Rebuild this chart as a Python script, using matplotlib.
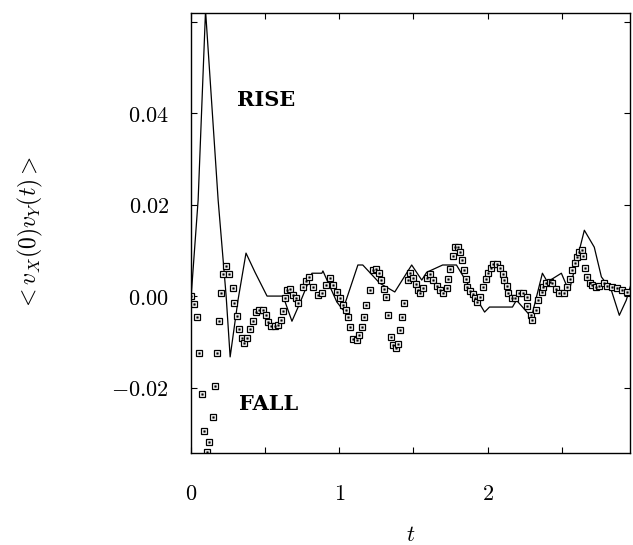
import matplotlib
matplotlib.use("Agg")
import matplotlib.pyplot as plt

plt.rcParams['mathtext.fontset'] = 'cm'
plt.rcParams['font.family'] = ['DejaVu Serif']

# solid curve (t, value)
line_t = [0.0, 0.047, 0.097, 0.182, 0.236, 0.263, 0.316, 0.37, 0.431, 0.512,
          0.62, 0.68, 0.734, 0.815, 0.882, 0.889, 0.983, 1.024, 1.125, 1.158,
          1.273, 1.374, 1.488, 1.556, 1.589, 1.697, 1.79, 1.98, 2.013, 2.168,
          2.195, 2.296, 2.37, 2.404, 2.498, 2.532, 2.552, 2.653, 2.72, 2.768,
          2.835, 2.889, 2.936, 2.97]
line_v = [0.0, 0.021, 0.0625, 0.021, 0.0, -0.0133, -0.0009, 0.0094, 0.0052, 0.0,
          0.0, -0.0055, -0.0015, 0.005, 0.005, 0.0055, -0.0013, -0.003, 0.0068, 0.0068,
          0.0028, 0.0009, 0.0068, 0.0035, 0.0052, 0.0068, 0.0068, -0.0035, -0.0024, -0.0024,
          -0.0009, -0.0046, 0.005, 0.0031, 0.005, 0.0024, 0.0013, 0.0144, 0.0107, 0.0042,
          0.0013, -0.0042, -0.0009, 0.0028]

# square markers (t, value)
sq_t = [0.0, 0.02, 0.04, 0.054, 0.074, 0.088, 0.108, 0.12, 0.148, 0.16,
        0.175, 0.19, 0.2, 0.215, 0.236, 0.256, 0.28, 0.29, 0.31, 0.323,
        0.343, 0.357, 0.38, 0.4, 0.418, 0.437, 0.458, 0.485, 0.505, 0.52,
        0.54, 0.565, 0.586, 0.606, 0.62, 0.63, 0.646, 0.667, 0.687, 0.71,
        0.723, 0.754, 0.774, 0.795, 0.824, 0.857, 0.88, 0.91, 0.936, 0.96,
        0.981, 1.005, 1.026, 1.045, 1.06, 1.075, 1.093, 1.116, 1.135, 1.15,
        1.165, 1.183, 1.205, 1.228, 1.25, 1.268, 1.284, 1.3, 1.313, 1.329,
        1.35, 1.365, 1.38, 1.395, 1.407, 1.42, 1.434, 1.461, 1.475, 1.495,
        1.515, 1.529, 1.543, 1.562, 1.589, 1.609, 1.63, 1.657, 1.677, 1.697,
        1.724, 1.731, 1.744, 1.764, 1.778, 1.798, 1.811, 1.825, 1.838, 1.852,
        1.859, 1.879, 1.899, 1.912, 1.926, 1.946, 1.966, 1.987, 2.0, 2.02,
        2.034, 2.061, 2.081, 2.101, 2.114, 2.128, 2.141, 2.162, 2.182, 2.209,
        2.236, 2.263, 2.269, 2.296, 2.303, 2.33, 2.343, 2.364, 2.377, 2.397,
        2.418, 2.438, 2.465, 2.485, 2.519, 2.539, 2.559, 2.572, 2.593, 2.606,
        2.62, 2.64, 2.646, 2.66, 2.673, 2.694, 2.707, 2.734, 2.754, 2.788,
        2.808, 2.842, 2.875, 2.909, 2.943]
sq_v = [0.0, -0.0018, -0.0046, -0.0125, -0.0214, -0.0295, -0.034, -0.032, -0.0265, -0.0197,
        -0.0125, -0.0055, 0.0006, 0.0048, 0.0066, 0.0048, 0.0017, -0.0015, -0.0044, -0.0072,
        -0.0092, -0.0103, -0.0092, -0.0072, -0.0055, -0.0035, -0.003, -0.003, -0.0042, -0.0057,
        -0.0066, -0.0066, -0.0063, -0.0052, -0.0033, -0.0004, 0.0013, 0.0015, 0.0002, -0.0004,
        -0.0016, 0.002, 0.0033, 0.0041, 0.002, 0.0002, 0.0006, 0.0025, 0.004, 0.0025,
        0.0009, -0.0005, -0.002, -0.003, -0.0045, -0.0068, -0.0093, -0.0095, -0.0085, -0.0067,
        -0.0045, -0.002, 0.0013, 0.0057, 0.0059, 0.005, 0.0035, 0.0015, -0.0001, -0.0042,
        -0.0089, -0.0108, -0.0114, -0.0105, -0.0074, -0.0045, -0.0016, 0.0035, 0.005, 0.0039,
        0.0026, 0.0013, 0.0007, 0.0017, 0.0039, 0.0048, 0.0035, 0.0022, 0.0013, 0.0007,
        0.0017, 0.0037, 0.0059, 0.0087, 0.0107, 0.0107, 0.0096, 0.0079, 0.0057, 0.0037,
        0.002, 0.0011, 0.0004, -0.0004, -0.0013, -0.0002, 0.002, 0.0037, 0.005, 0.0061,
        0.007, 0.007, 0.0061, 0.0048, 0.0035, 0.0022, 0.0007, -0.0004, -0.0004, 0.0007,
        0.0007, -0.0002, -0.0022, -0.0042, -0.0052, -0.0031, -0.0009, 0.0009, 0.002, 0.0028,
        0.0031, 0.0028, 0.0015, 0.0007, 0.0007, 0.002, 0.0037, 0.0057, 0.0072, 0.0085,
        0.0096, 0.01, 0.0087, 0.0061, 0.0042, 0.0028, 0.0024, 0.002, 0.0022, 0.0028,
        0.0022, 0.002, 0.0017, 0.0013, 0.0009]

xticks = [0, 0.5, 1, 1.5, 2, 2.5]
xlabels = ['$0$', '', '$1$', '', '$2$', '']
yticks = [-0.02, 0.0, 0.02, 0.04, 0.06]
ylabels = ['$-0.02$', '$0.00$', '$0.02$', '$0.04$', '']

fig = plt.figure(figsize=(6.33, 5.45), dpi=100)
ax = fig.add_axes([0.302, 0.169, 0.693, 0.807])

ax.plot(line_t, line_v, color='black', lw=0.9)
ax.plot(sq_t, sq_v, ls='none', marker='s', ms=4.6, mfc='white', mec='black', mew=0.9)
ax.plot(sq_t, sq_v, ls='none', marker='s', ms=1.2, mfc='black', mec='black', mew=0.3)

ax.set_xlim(0, 2.96)
ax.set_ylim(-0.0343, 0.0619)
ax.set_xticks(xticks)
ax.set_xticklabels(xlabels)
ax.set_yticks(yticks)
ax.set_yticklabels(ylabels)
ax.tick_params(direction='in', top=True, right=True, length=4, width=0.8,
               labelsize=16)
ax.tick_params(axis='x', pad=22)
ax.tick_params(axis='y', pad=16)
for s in ax.spines.values():
    s.set_linewidth(1.0)

ax.text(0.31, 0.0428, 'RISE', fontsize=15, fontweight='bold', va='center', ha='left')
ax.text(0.323, -0.0236, 'FALL', fontsize=15, fontweight='bold', va='center', ha='left')

ax.set_xlabel('$t$', fontsize=16, labelpad=13)
ax.set_ylabel(r'$<v_X(0)v_Y(t)>$', fontsize=17, labelpad=48)

fig.savefig('out.png', dpi=100)
